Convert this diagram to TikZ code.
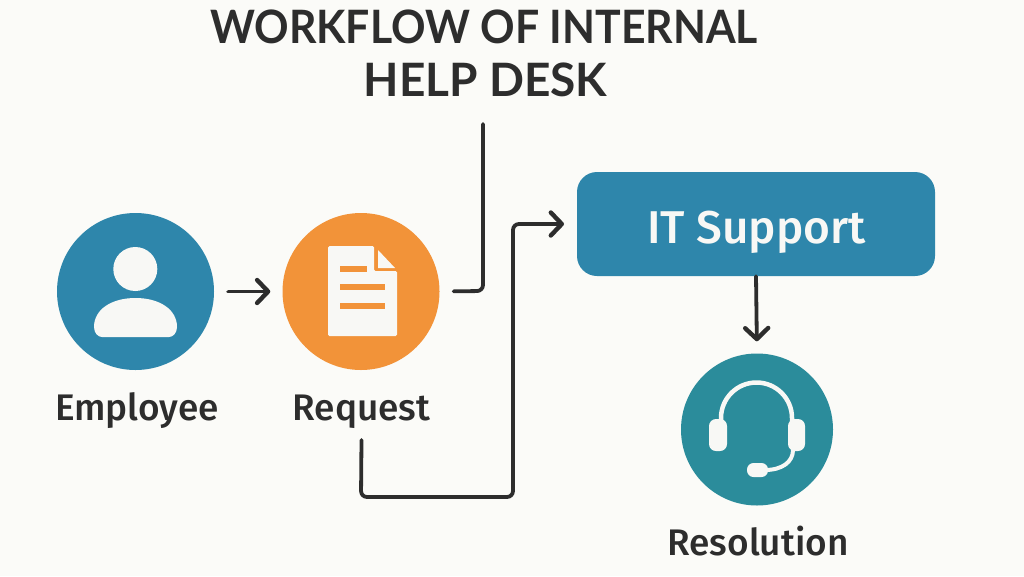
\documentclass[tikz,border=0pt]{standalone}
\usepackage{fontspec}
\setmainfont{Open Sans}
\newfontfamily\titlefont{Lato Bold}[FakeStretch=0.93]
\newfontfamily\titlefontwide{Lato Bold}
\newfontfamily\labelfont{Fira Sans Medium}
\usetikzlibrary{arrows.meta}
\definecolor{bgc}{HTML}{FBFBF8}
\definecolor{bluec}{HTML}{2E86AB}
\definecolor{orangec}{HTML}{F29339}
\definecolor{tealc}{HTML}{2B8C9B}
\definecolor{inkc}{HTML}{2D2D2D}
\definecolor{iconc}{HTML}{F8F8F5}
\tikzset{
  disc/.style={circle,inner sep=0pt,minimum size=#1,draw=none},
  lbl/.style={font=\labelfont\fontsize{37}{37}\selectfont,text=inkc,inner sep=0pt,anchor=base},
  ttl/.style={text=inkc,inner sep=0pt,anchor=base},
  flow/.style={draw=inkc,line width=3.8pt,line cap=round,line join=round,rounded corners=6pt},
  head/.style={-{Straight Barb[length=11pt,width=23pt,line width=4.4pt,round]}},
  icon/.style={fill=iconc,draw=none},
  iconline/.style={draw=iconc,line cap=round},
  docline/.style={draw=orangec,line width=6pt},
}
\begin{document}
\begin{tikzpicture}[x=1pt,y=-1pt]
\useasboundingbox[fill=bgc] (0,0) rectangle (1024,576);
\node[ttl,font=\titlefont\fontsize{46}{46}\selectfont] (t1) at (484,43) {WORKFLOW OF INTERNAL};
\node[ttl,font=\titlefontwide\fontsize{46}{46}\selectfont] (t2) at (485.5,96) {HELP DESK};
\coordinate (titleend) at (483,124);
\node[disc=157pt,fill=bluec] (emp) at (135.5,291.5) {};
\node[disc=157pt,fill=orangec] (req) at (361,291.5) {};
\node[disc=152pt,fill=tealc] (res) at (757,429.5) {};
\node[fill=bluec,rounded corners=20pt,minimum width=358pt,minimum height=104pt,inner sep=0pt] (it) at (756,224) {};
\node[font=\labelfont\fontsize{46}{46}\selectfont,text=iconc,inner sep=0pt,anchor=base] (itt) at (756.5,243) {IT Support};
\node[lbl] (empl) at (137,420) {Employee};
\node[lbl] (reql) at (361.5,420) {Request};
\node[lbl] (resl) at (758,555) {Resolution};
% person icon
\fill[icon] (135.3,269) circle (22);
\fill[icon] (94,327) .. controls (94,309) and (112,298) .. (135.5,298) .. controls (159,298) and (177,309) .. (177,327) .. controls (177,333) and (173,337) .. (169,337) -- (102,337) .. controls (98,337) and (94,333) .. (94,327) -- cycle;
% document icon
\fill[icon,rounded corners=1.5pt] (328,246) -- (374,246) -- (374,271) -- (397,271) -- (397,336) -- (328,336) -- cycle;
\fill[icon] (378,250) -- (395,268) -- (378,268) -- cycle;
\draw[docline] (340,269) -- (367,269);
\draw[docline] (340,287) -- (385,287);
\draw[docline] (340,306) -- (385,306);
% headset icon
\draw[iconline,line width=4.5pt] (721,425) -- (721,418) arc[start angle=180,end angle=360,radius=35.5] -- (792,425);
\fill[icon,rounded corners=7pt] (709,419) rectangle (727,451);
\fill[icon,rounded corners=7pt] (788,419) rectangle (805,451);
\draw[iconline,line width=4pt] (793,450) .. controls (793,462) and (782,470) .. (765,470);
\fill[icon,rounded corners=6.5pt] (747,463) rectangle (768,477);
% connectors
\draw[flow,head,shorten <=14pt,shorten >=12pt] (emp) -- (req);
\draw[flow,shorten <=14pt] (req.east) -- (483,291) -- (titleend);
\draw[flow,head] ([yshift=-20pt]reql.base) -- (361,497) -- (513,497) -- (513,224) -- (564,224);
\draw[flow,head,shorten >=12pt] (it.south) -- (res.north);
\end{tikzpicture}
\end{document}
